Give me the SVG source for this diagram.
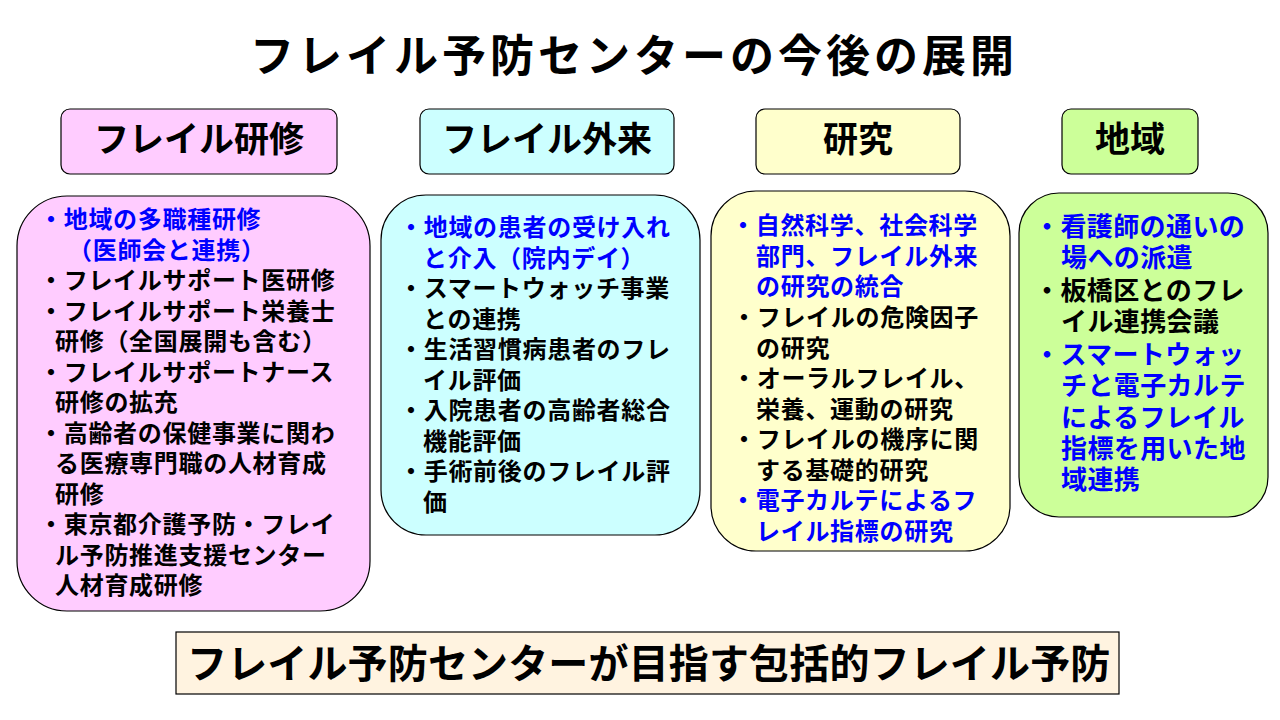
<svg xmlns="http://www.w3.org/2000/svg" width="1280" height="720" viewBox="0 0 1280 720">
<style>
text{font-family:"Noto Sans CJK JP","Noto Sans",sans-serif;font-weight:bold;fill:#000}
.title{font-size:44px;letter-spacing:4px}
.hd{font-size:35px;text-anchor:middle}
.b{font-size:24px;letter-spacing:0.7px}
.g{font-size:26px;letter-spacing:0.4px}
.blue{fill:#0000FF}
.box{stroke:#000;stroke-width:1.2}
</style>
<rect width="1280" height="720" fill="#fff"/>
<text class="title" x="250" y="72">フレイル予防センターの今後の展開</text>

<g id="header-kenshu">
<rect class="box" x="61" y="109" width="276" height="65" rx="9" fill="#FFCCFF"/>
<text class="hd" x="199" y="152">フレイル研修</text>
</g>
<g id="header-gairai">
<rect class="box" x="420" y="109" width="254" height="65" rx="9" fill="#CCFFFF"/>
<text class="hd" x="547" y="152">フレイル外来</text>
</g>
<g id="header-kenkyu">
<rect class="box" x="756" y="109" width="204" height="65" rx="9" fill="#FFFFCC"/>
<text class="hd" x="858" y="152">研究</text>
</g>
<g id="header-chiiki">
<rect class="box" x="1062" y="109" width="136" height="65" rx="9" fill="#CCFF99"/>
<text class="hd" x="1130" y="152">地域</text>
</g>

<g id="box-kenshu">
<rect class="box" x="17" y="196" width="353" height="415" rx="50" fill="#FFCCFF"/>
<text class="b">
<tspan class="blue" x="39" y="228">・地域の多職種研修</tspan>
<tspan class="blue" x="68" y="258.5">（医師会と連携）</tspan>
<tspan x="39" y="289">・フレイルサポート医研修</tspan>
<tspan x="39" y="319.5">・フレイルサポート栄養士</tspan>
<tspan x="55" y="350">研修（全国展開も含む）</tspan>
<tspan x="39" y="380.5">・フレイルサポートナース</tspan>
<tspan x="55" y="411">研修の拡充</tspan>
<tspan x="39" y="441.5">・高齢者の保健事業に関わ</tspan>
<tspan x="55" y="472">る医療専門職の人材育成</tspan>
<tspan x="55" y="502.5">研修</tspan>
<tspan x="39" y="533">・東京都介護予防・フレイ</tspan>
<tspan x="55" y="563.5">ル予防推進支援センター</tspan>
<tspan x="55" y="594">人材育成研修</tspan>
</text>
</g>

<g id="box-gairai">
<rect class="box" x="381" y="195" width="319" height="340" rx="45" fill="#CCFFFF"/>
<text class="b">
<tspan class="blue" x="399" y="236">・地域の患者の受け入れ</tspan>
<tspan class="blue" x="423" y="266.5">と介入（院内デイ）</tspan>
<tspan x="399" y="297">・スマートウォッチ事業</tspan>
<tspan x="423" y="327.5">との連携</tspan>
<tspan x="399" y="358">・生活習慣病患者のフレ</tspan>
<tspan x="423" y="388.5">イル評価</tspan>
<tspan x="399" y="419">・入院患者の高齢者総合</tspan>
<tspan x="423" y="449.5">機能評価</tspan>
<tspan x="399" y="480">・手術前後のフレイル評</tspan>
<tspan x="423" y="510.5">価</tspan>
</text>
</g>

<g id="box-kenkyu">
<rect class="box" x="711" y="191" width="299" height="360" rx="45" fill="#FFFFCC"/>
<text class="b">
<tspan class="blue" x="731" y="234">・自然科学、社会科学</tspan>
<tspan class="blue" x="756" y="264.5">部門、フレイル外来</tspan>
<tspan class="blue" x="756" y="295">の研究の統合</tspan>
<tspan x="732" y="326">・フレイルの危険因子</tspan>
<tspan x="756" y="356.5">の研究</tspan>
<tspan x="732" y="387">・オーラルフレイル、</tspan>
<tspan x="756" y="417.5">栄養、運動の研究</tspan>
<tspan x="732" y="448">・フレイルの機序に関</tspan>
<tspan x="756" y="478.5">する基礎的研究</tspan>
<tspan class="blue" x="731" y="509">・電子カルテによるフ</tspan>
<tspan class="blue" x="756" y="539.5">レイル指標の研究</tspan>
</text>
</g>

<g id="box-chiiki">
<rect class="box" x="1019" y="193" width="249" height="324" rx="40" fill="#CCFF99"/>
<text class="g">
<tspan class="blue" x="1034" y="236">・看護師の通いの</tspan>
<tspan class="blue" x="1061" y="267">場への派遣</tspan>
<tspan x="1034" y="300">・板橋区とのフレ</tspan>
<tspan x="1061" y="331">イル連携会議</tspan>
<tspan class="blue" x="1034" y="364">・スマートウォッ</tspan>
<tspan class="blue" x="1061" y="395">チと電子カルテ</tspan>
<tspan class="blue" x="1061" y="427">によるフレイル</tspan>
<tspan class="blue" x="1061" y="458">指標を用いた地</tspan>
<tspan class="blue" x="1061" y="489">域連携</tspan>
</text>
</g>

<g id="bottom-banner">
<rect class="box" x="176" y="632" width="943" height="62" fill="#FFF3E0"/>
<text x="187" y="678" style="font-size:40px;letter-spacing:0.15px">フレイル予防センターが目指す包括的フレイル予防</text>
</g>
<g id="connectors"></g>
</svg>
